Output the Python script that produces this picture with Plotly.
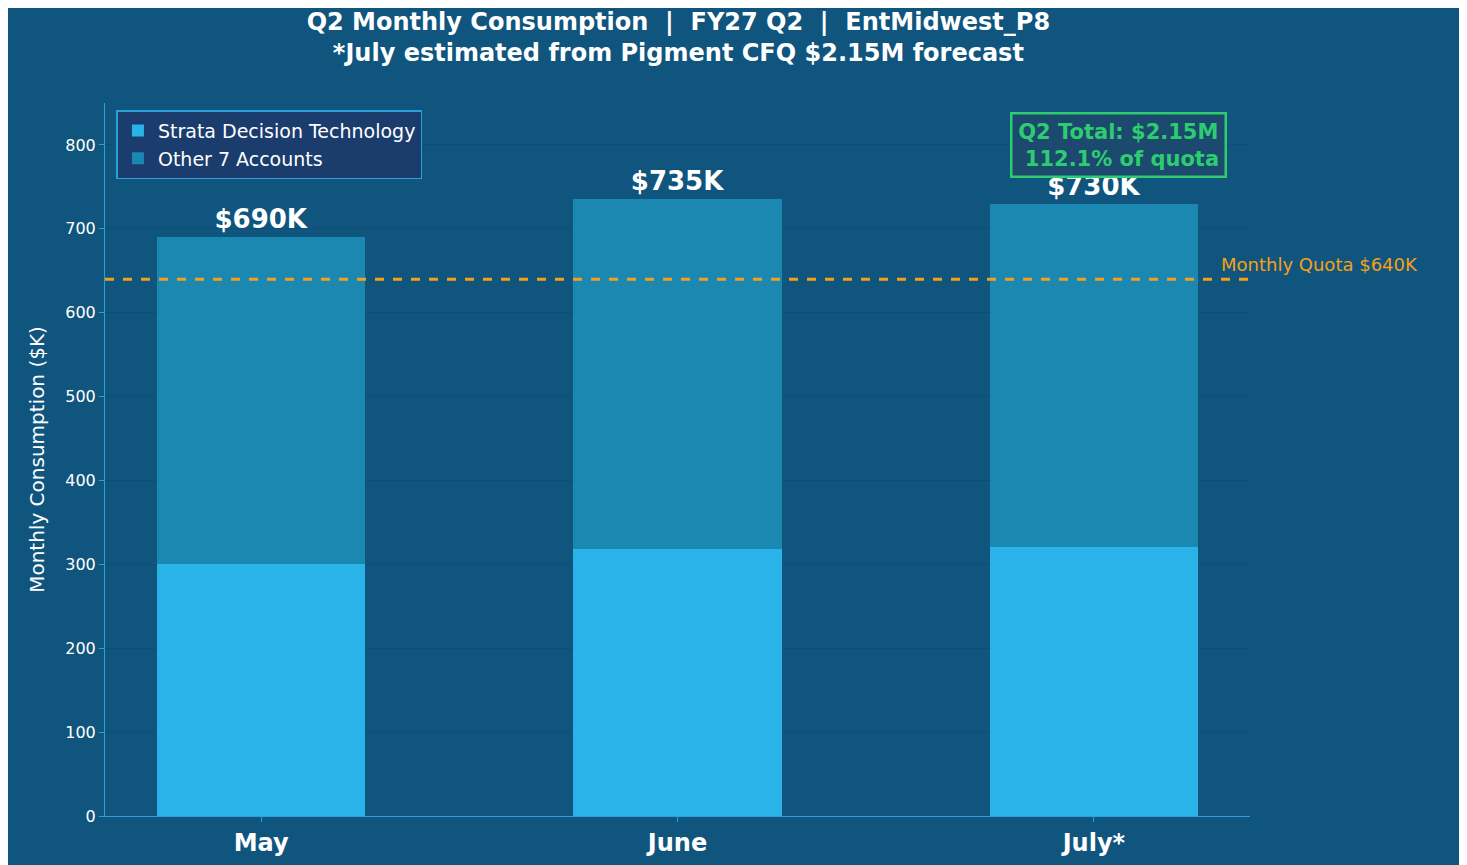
import plotly.graph_objects as go

months = ["May", "June", "July*"]
strata = [301, 318, 321]
other = [389, 417, 409]
totals = [690, 735, 730]
quota = 640

BG = "#10557e"

fig = go.Figure([
    go.Bar(x=months, y=strata, name="Strata Decision Technology", marker_color="#29b3e8",
           marker_line_width=0, width=0.5),
    go.Bar(x=months, y=other, name="Other 7 Accounts", marker_color="#1b88b2",
           marker_line_width=0, width=0.5,
           text=[f"<b>${t}K</b>" for t in totals], textposition="outside",
           textfont=dict(size=26, color="white", family="DejaVu Sans")),
])

fig.add_hline(y=quota, line=dict(color="#f5a01a", width=3, dash="dash"))
fig.add_annotation(x=2.3, y=quota + 3, xref="x", yref="y", text="Monthly Quota $640K",
                   showarrow=False, xanchor="left", yanchor="bottom",
                   font=dict(color="#f5a01a", size=18))
fig.add_annotation(x=2.06, y=800, xref="x", yref="y",
                   text="<b>Q2 Total: $2.15M<br> 112.1% of quota</b>",
                   showarrow=False, font=dict(color="#2ecc71", size=21),
                   bgcolor="#1b4a6e", bordercolor="#2ecc71", borderwidth=2.5, borderpad=5)

fig.update_layout(
    barmode="stack",
    autosize=True,
    paper_bgcolor=BG, plot_bgcolor=BG,
    font=dict(family="DejaVu Sans", color="white", size=16),
    margin=dict(l=97, r=209, t=95, b=57),
    title=dict(text="<b>Q2 Monthly Consumption  |  FY27 Q2  |  EntMidwest_P8<br>*July estimated from Pigment CFQ $2.15M forecast</b>",
               x=0.462, xanchor="center", y=0.975, yanchor="top", font=dict(size=24)),
    legend=dict(x=0.01, y=0.99, xanchor="left", yanchor="top", bgcolor="#1b3d6e",
                traceorder="normal",
                bordercolor="#29a0d8", borderwidth=1.5, font=dict(size=19)),
    xaxis=dict(range=[-0.375, 2.375], showline=True, linecolor="#29a0d8", ticks="outside",
               tickcolor="#29a0d8", tickfont=dict(size=24, family="DejaVu Sans"),
               tickprefix="<b>", ticksuffix="</b>"),
    yaxis=dict(range=[0, 850], dtick=100, showline=True, linecolor="#29a0d8", ticks="outside",
               tickcolor="#29a0d8", gridcolor="rgba(0,0,0,0.08)", zeroline=False,
               title=dict(text="Monthly Consumption ($K)", font=dict(size=20)),
               tickfont=dict(size=16)),
)

fig.write_html("out.html", default_width="100%", default_height="100vh",
               config={"responsive": True})
